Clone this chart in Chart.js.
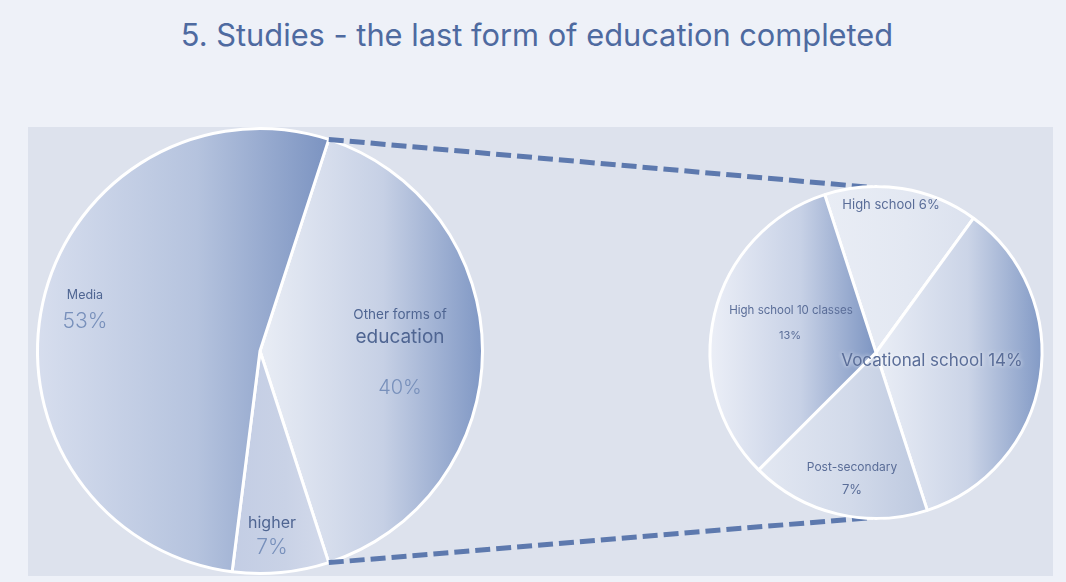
<!DOCTYPE html>
<html>
<head>
<meta charset="utf-8">
<script src="https://cdn.jsdelivr.net/npm/chart.js@4.4.1/dist/chart.umd.min.js"></script>
<style>
    html, body { margin: 0; padding: 0; }
    body {
        width: 1066px; height: 582px; overflow: hidden; position: relative;
        background: #eef1f8; font-family: Inter, 'Noto Sans', sans-serif;
    }
    #titulo {
        position: absolute; top: 16px; left: 4px; width: 1066px;
        text-align: center; font-size: 30.8px; color: #4e6aa0;
    }
    #panel {
        position: absolute; left: 28px; top: 127px; width: 1025px; height: 449px;
        background: #dde2ed;
    }
    canvas { position: absolute; left: 0; top: 0; }
</style>
</head>
<body>
<div id="titulo">5. Studies - the last form of education completed</div>
<div id="panel"></div>
<canvas id="canvasPrincipal" width="1066" height="582"></canvas>
<canvas id="canvasDetalle" width="1066" height="582"></canvas>
<script>
// Pastel principal: el primer sector se desglosa en el pastel de la derecha
const categoriasPrincipal = ['Other forms of\neducation', 'higher', 'Media'];
const valoresPrincipal = [40, 7, 53];

const categoriasDetalle = ['High school', 'Vocational school', 'Post-secondary', 'High school 10 classes'];
const valoresDetalle = [6, 14, 7, 13];

// Degradados horizontales de cada sector (izquierda, centro, derecha)
const coloresPrincipal = [
    ['#e9edf5', '#c6d0e5', '#7f97c4'],
    ['#c3cde4', '#c9d2e6', '#d3daeb'],
    ['#d7deee', '#b5c3de', '#7b93c1']
];
const coloresDetalle = [
    ['#e9edf5', '#e3e8f2', '#dbe1ee'],
    ['#eaeef6', '#cbd4e7', '#8199c5'],
    ['#e3e8f2', '#d2daea', '#bcc8df'],
    ['#eceff7', '#c7d1e6', '#7d95c2']
];

const OSCURO = '#4f6592';
const CLARO = '#7890bb';

// Posición de cada etiqueta respecto al centro del pastel, una entrada por línea
const etiquetasPrincipal = [
    { dx: 140, enLinea: false, lineas: [
        { dy: -36, size: 13.5, color: OSCURO },
        { dy: -14, size: 19, color: OSCURO },
        { dy: 37, size: 20, color: CLARO, peso: 300 }] },
    { dx: 12, enLinea: false, lineas: [
        { dy: 172, size: 16, color: OSCURO },
        { dy: 197, size: 21, color: CLARO, peso: 300 }] },
    { dx: -175, enLinea: false, lineas: [
        { dy: -56, size: 12.5, color: OSCURO },
        { dy: -29, size: 21, color: CLARO, peso: 300 }] }
];
const etiquetasDetalle = [
    { dx: 15, enLinea: true, lineas: [{ dy: -147, size: 13, color: '#5a6d98' }] },
    { dx: 56, enLinea: true, lineas: [{ dy: 8, size: 17, color: '#5a6d98', halo: true }] },
    { dx: -24, enLinea: false, lineas: [
        { dy: 115, size: 12, color: '#5a6d98' },
        { dy: 138, size: 13, color: '#5a6d98' }] },
    { dx: -85, enLinea: false, lineas: [
        { dy: -42, size: 11.5, color: '#5a6d98' },
        { dy: -17, size: 11, color: '#5a6d98', dx: -1 }] }
];

const ROTACION_PRINCIPAL = 18;
const ROTACION_DETALLE = -18;

function gradienteSector(ctx, colores, rotacion) {
    const chart = ctx.chart;
    const area = chart.chartArea;
    if (!area) return colores[1];
    const datos = chart.data.datasets[0].data;
    const total = datos.reduce((a, b) => a + b, 0);
    let acumulado = 0;
    for (let k = 0; k < ctx.dataIndex; k++) acumulado += datos[k];
    const inicio = (rotacion - 90) * Math.PI / 180 + acumulado / total * 2 * Math.PI;
    const fin = inicio + datos[ctx.dataIndex] / total * 2 * Math.PI;
    const cx = (area.left + area.right) / 2;
    const r = Math.min(area.width, area.height) / 2;
    const xs = [cx, cx + r * Math.cos(inicio), cx + r * Math.cos(fin)];
    [0, Math.PI].forEach(a => {
        for (let k = -2; k <= 2; k++) {
            const ang = a + 2 * Math.PI * k;
            if (ang >= inicio && ang <= fin) xs.push(cx + r * Math.cos(ang));
        }
    });
    const g = chart.ctx.createLinearGradient(Math.min(...xs), 0, Math.max(...xs), 0);
    g.addColorStop(0, colores[0]);
    g.addColorStop(0.55, colores[1]);
    g.addColorStop(1, colores[2]);
    return g;
}

function lineasEtiqueta(nombre, valor, enLinea) {
    return enLinea ? [nombre + ' ' + valor + '%'] : [...nombre.split('\n'), valor + '%'];
}

function pluginEtiquetas(categorias, valores, disposicion) {
    return {
        id: 'etiquetas',
        afterDatasetsDraw(chart) {
            const c = chart.ctx;
            const arcos = chart.getDatasetMeta(0).data;
            c.save();
            c.textAlign = 'center';
            c.textBaseline = 'middle';
            arcos.forEach((arco, i) => {
                const conf = disposicion[i];
                const textos = lineasEtiqueta(categorias[i], valores[i], conf.enLinea);
                textos.forEach((t, j) => {
                    const l = conf.lineas[j];
                    const x = arco.x + conf.dx + (l.dx || 0);
                    const y = arco.y + l.dy;
                    c.font = `${l.peso || 400} ${l.size}px Inter, 'Noto Sans', sans-serif`;
                    if (l.halo) {
                        c.shadowColor = 'rgba(255,255,255,0.9)';
                        c.shadowBlur = 4;
                    } else {
                        c.shadowBlur = 0;
                    }
                    c.fillStyle = l.color;
                    c.fillText(t, x, y);
                });
            });
            c.restore();
        }
    };
}

const chartPrincipal = new Chart(document.getElementById('canvasPrincipal'), {
    type: 'pie',
    data: {
        labels: categoriasPrincipal,
        datasets: [{
            data: valoresPrincipal,
            backgroundColor: ctx => gradienteSector(ctx, coloresPrincipal[ctx.dataIndex], ROTACION_PRINCIPAL),
            borderColor: '#ffffff',
            borderWidth: 3
        }]
    },
    options: {
        responsive: false,
        animation: false,
        rotation: ROTACION_PRINCIPAL,
        layout: { padding: { left: 36, right: 582, top: 127, bottom: 7 } },
        plugins: { legend: { display: false }, tooltip: { enabled: false } }
    },
    plugins: [pluginEtiquetas(categoriasPrincipal, valoresPrincipal, etiquetasPrincipal)]
});

// Líneas discontinuas que unen el sector desglosado con el segundo pastel
const pluginConectores = {
    id: 'conectores',
    beforeDatasetsDraw(chart) {
        const origen = chartPrincipal.getDatasetMeta(0).data[0];
        const destino = chart.getDatasetMeta(0).data[0];
        const ro = origen.outerRadius;
        const rd = destino.outerRadius;
        const c = chart.ctx;
        c.save();
        c.strokeStyle = '#5d79ae';
        c.lineWidth = 5;
        c.setLineDash([15, 6]);
        c.beginPath();
        c.moveTo(origen.x + ro * Math.cos(origen.startAngle), origen.y + ro * Math.sin(origen.startAngle));
        c.lineTo(destino.x + 8, destino.y - rd + 2);
        c.moveTo(origen.x + ro * Math.cos(origen.endAngle), origen.y + ro * Math.sin(origen.endAngle));
        c.lineTo(destino.x + 8, destino.y + rd - 2);
        c.stroke();
        c.restore();
    }
};

new Chart(document.getElementById('canvasDetalle'), {
    type: 'pie',
    data: {
        labels: categoriasDetalle,
        datasets: [{
            data: valoresDetalle,
            backgroundColor: ctx => gradienteSector(ctx, coloresDetalle[ctx.dataIndex], ROTACION_DETALLE),
            borderColor: '#ffffff',
            borderWidth: 3
        }]
    },
    options: {
        responsive: false,
        animation: false,
        rotation: ROTACION_DETALLE,
        layout: { padding: { left: 708, right: 22, top: 185, bottom: 62 } },
        plugins: { legend: { display: false }, tooltip: { enabled: false } }
    },
    plugins: [pluginConectores, pluginEtiquetas(categoriasDetalle, valoresDetalle, etiquetasDetalle)]
});
</script>
</body>
</html>
